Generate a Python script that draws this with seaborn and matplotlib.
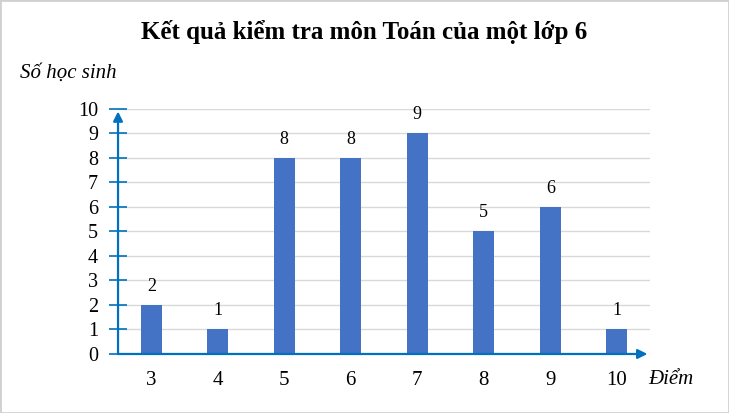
import pandas as pd
import matplotlib.pyplot as plt
import seaborn as sns
from matplotlib.patches import Rectangle

# Data
diem = ["3", "4", "5", "6", "7", "8", "9", "10"]
so_hoc_sinh = [2, 1, 8, 8, 9, 5, 6, 1]

df = pd.DataFrame({"diem": diem, "so_hs": so_hoc_sinh})

sns.set_theme(style="white")
plt.rcParams["font.family"] = ["Liberation Serif", "DejaVu Serif"]
plt.rcParams["text.color"] = "black"

blue = "#4472C4"
axis_blue = "#0070C0"

fig = plt.figure(figsize=(7.29, 4.13), dpi=100)
ax = fig.add_axes([0.1619, 0.1429, 0.7298, 0.5932])

sns.barplot(data=df, x="diem", y="so_hs", color=blue, width=0.31,
            saturation=1, linewidth=0, ax=ax, zorder=3)

ax.set_xlim(-0.5, 7.5)
ax.set_ylim(0, 10)
ax.set_yticks(range(0, 11))
ax.yaxis.grid(True, color="#d9d9d9", linewidth=1, zorder=0)
ax.set_axisbelow(True)
for s in ax.spines.values():
    s.set_visible(False)

ax.tick_params(axis="y", direction="inout", length=13, width=1.2,
               color=axis_blue, labelsize=14.5, labelcolor="black", pad=8, left=True)
ax.tick_params(axis="x", length=0, labelsize=15, labelcolor="black", pad=12)
ax.set_xlabel("")
ax.set_ylabel("")

# value labels
for i, v in enumerate(so_hoc_sinh):
    ax.annotate(str(v), (i, v), xytext=(0, 13.5), textcoords="offset points",
                ha="center", va="center", fontsize=13)

# axis arrows
ax.annotate("", xy=(0.995, 0), xytext=(0, 0), xycoords="axes fraction",
            arrowprops=dict(arrowstyle="-|>", color=axis_blue, lw=1.6,
                            mutation_scale=14, shrinkA=0, shrinkB=0),
            zorder=5)
ax.annotate("", xy=(0, 0.99), xytext=(0, 0), xycoords="axes fraction",
            arrowprops=dict(arrowstyle="-|>", color=axis_blue, lw=1.6,
                            mutation_scale=14, shrinkA=0, shrinkB=0),
            zorder=5)

fig.text(0.5, 0.922, "Kết quả kiểm tra môn Toán của một lớp 6",
         ha="center", va="center", fontsize=18, fontweight="bold")
fig.text(0.028, 0.823, "Số học sinh", ha="left", va="center",
         fontsize=15, style="italic")
fig.text(0.889, 0.08, "Điểm", ha="left", va="center",
         fontsize=15, style="italic")

fig.add_artist(Rectangle((0, 0), 1, 1, transform=fig.transFigure,
                         fill=False, edgecolor="#d0d0d0", linewidth=2))

fig.savefig("out.png", dpi=100)
